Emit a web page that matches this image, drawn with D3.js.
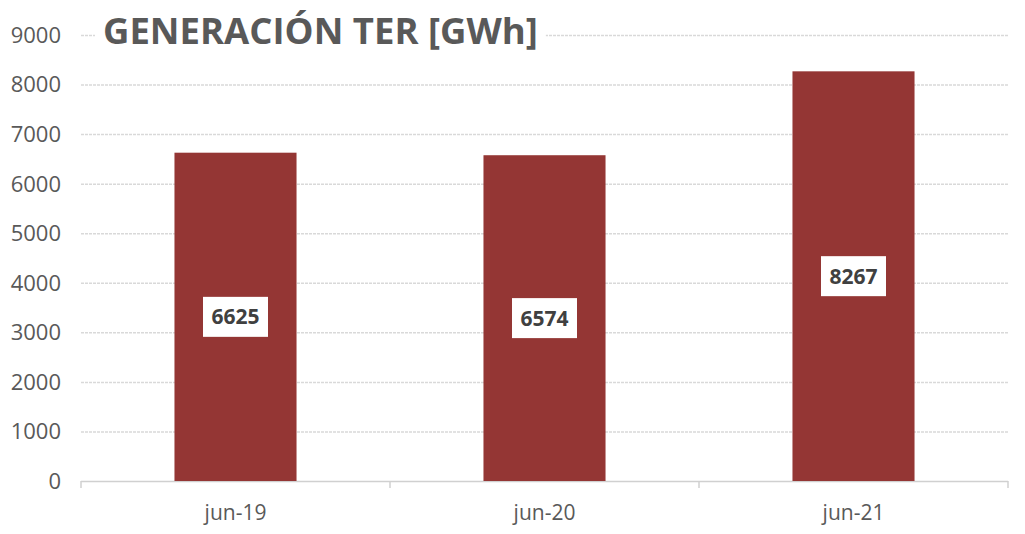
<!DOCTYPE html>
<html>
<head>
<meta charset="utf-8">
<script src="https://cdn.jsdelivr.net/npm/d3@7"></script>
<style>
  body { margin: 0; background: #fff; }
  text { font-family: "Open Sans", "DejaVu Sans", sans-serif; }
</style>
</head>
<body>
<div id="chart"></div>
<script>
const categories = ["jun-19", "jun-20", "jun-21"];
const values = [6625, 6574, 8267];
const yTicks = [0, 1000, 2000, 3000, 4000, 5000, 6000, 7000, 8000, 9000];
const title = "GENERACIÓN TER [GWh]";

const margin = {top: 35, right: 17, bottom: 53, left: 81},
      width = 1025 - margin.left - margin.right,
      height = 534 - margin.top - margin.bottom;

const svg = d3.select("#chart")
              .append("svg")
              .attr("width", 1025)
              .attr("height", 534)
              .append("g")
              .attr("transform", `translate(${margin.left},${margin.top})`);

const x = d3.scaleBand()
            .domain(categories)
            .range([0, width])
            .paddingInner(0.605)
            .paddingOuter(0.3025);

const y = d3.scaleLinear()
            .domain([0, 9000])
            .range([height, 0]);

// gridlines
svg.selectAll(".grid")
   .data(yTicks.slice(1))
   .enter()
   .append("line")
   .attr("x1", 0)
   .attr("x2", width)
   .attr("y1", d => y(d) + 0.5)
   .attr("y2", d => y(d) + 0.5)
   .attr("stroke", "#d9d9d9")
   .attr("stroke-width", 1.5)
   .attr("stroke-dasharray", "3,1");

// y axis labels
svg.append("g")
   .selectAll("text")
   .data(yTicks)
   .enter()
   .append("text")
   .attr("x", -20)
   .attr("y", d => y(d))
   .attr("dy", "0.36em")
   .attr("text-anchor", "end")
   .style("font-size", "22px")
   .style("fill", "#595959")
   .text(d => d);

// x axis
const xAxis = svg.append("g")
   .attr("transform", `translate(0, ${height})`);

xAxis.append("line")
     .attr("x1", 0)
     .attr("x2", width)
     .attr("y1", 0.5)
     .attr("y2", 0.5)
     .attr("stroke", "#d0d0d0")
     .attr("stroke-width", 1.5);

const step = x.step();
xAxis.selectAll(".tick")
     .data(d3.range(categories.length + 1))
     .enter()
     .append("line")
     .attr("x1", i => i * step)
     .attr("x2", i => i * step)
     .attr("y1", 0)
     .attr("y2", 7)
     .attr("stroke", "#d0d0d0")
     .attr("stroke-width", 1.5);

xAxis.selectAll(".xlabel")
     .data(categories)
     .enter()
     .append("text")
     .attr("x", d => x(d) + x.bandwidth() / 2)
     .attr("y", 39)
     .attr("text-anchor", "middle")
     .style("font-size", "21px")
     .style("fill", "#595959")
     .text(d => d);

// bars
const data = categories.map((c, i) => ({cat: c, val: values[i]}));

svg.selectAll(".bar")
   .data(data)
   .enter()
   .append("rect")
   .attr("x", d => x(d.cat))
   .attr("y", d => y(d.val))
   .attr("width", x.bandwidth())
   .attr("height", d => height - y(d.val))
   .attr("fill", "#943634");

// value labels with white boxes
const lbl = svg.selectAll(".lbl")
   .data(data)
   .enter()
   .append("g")
   .attr("transform", d => `translate(${x(d.cat) + x.bandwidth() / 2}, ${(y(d.val) + height) / 2})`);

lbl.append("rect")
   .attr("x", -32.5)
   .attr("y", -20)
   .attr("width", 65)
   .attr("height", 40)
   .attr("fill", "#fff");

lbl.append("text")
   .attr("text-anchor", "middle")
   .attr("dy", "0.36em")
   .style("font-size", "21px")
   .style("font-weight", "bold")
   .style("fill", "#404040")
   .text(d => d.val);

// title with white background over the top gridline
const tg = svg.append("g");
const tbg = tg.append("rect").attr("fill", "#fff");
const tt = tg.append("text")
   .attr("x", 22)
   .attr("y", 9)
   .style("font-size", "36.5px")
   .style("font-weight", "bold")
   .style("fill", "#595959")
   .text(title);

const bb = tt.node().getBBox();
tbg.attr("x", bb.x - 8)
   .attr("y", bb.y)
   .attr("width", bb.width + 16)
   .attr("height", bb.height);
</script>
</body>
</html>
